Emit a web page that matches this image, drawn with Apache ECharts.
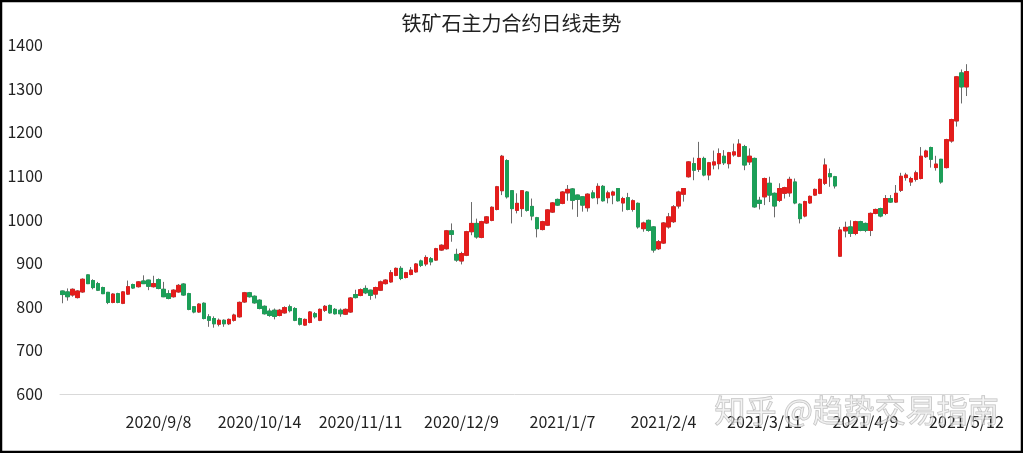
<!DOCTYPE html>
<html><head><meta charset="utf-8">
<script src="https://cdn.jsdelivr.net/npm/echarts@6/dist/echarts.min.js"></script>
<style>html,body{margin:0;padding:0;background:#fff}#c{width:1023px;height:453px}</style>
</head><body><div id="c"></div>
<script>
const titleText = '铁矿石主力合约日线走势';
const watermark = '知乎 @趋势交易指南';
const dates = [
'2020/8/12','2020/8/13','2020/8/14','2020/8/17','2020/8/18','2020/8/19','2020/8/20','2020/8/21','2020/8/24','2020/8/25','2020/8/26','2020/8/27','2020/8/28','2020/8/31',
'2020/9/1','2020/9/2','2020/9/3','2020/9/4','2020/9/7','2020/9/8','2020/9/9','2020/9/10','2020/9/11','2020/9/14','2020/9/15','2020/9/16','2020/9/17','2020/9/18','2020/9/21','2020/9/22','2020/9/23','2020/9/24','2020/9/25','2020/9/28','2020/9/29','2020/9/30',
'2020/10/9','2020/10/12','2020/10/13','2020/10/14','2020/10/15','2020/10/16','2020/10/19','2020/10/20','2020/10/21','2020/10/22','2020/10/23','2020/10/26','2020/10/27','2020/10/28','2020/10/29','2020/10/30',
'2020/11/2','2020/11/3','2020/11/4','2020/11/5','2020/11/6','2020/11/9','2020/11/10','2020/11/11','2020/11/12','2020/11/13','2020/11/16','2020/11/17','2020/11/18','2020/11/19','2020/11/20','2020/11/23','2020/11/24','2020/11/25','2020/11/26','2020/11/27','2020/11/30',
'2020/12/1','2020/12/2','2020/12/3','2020/12/4','2020/12/7','2020/12/8','2020/12/9','2020/12/10','2020/12/11','2020/12/14','2020/12/15','2020/12/16','2020/12/17','2020/12/18','2020/12/21','2020/12/22','2020/12/23','2020/12/24','2020/12/25','2020/12/28','2020/12/29','2020/12/30','2020/12/31',
'2021/1/4','2021/1/5','2021/1/6','2021/1/7','2021/1/8','2021/1/11','2021/1/12','2021/1/13','2021/1/14','2021/1/15','2021/1/18','2021/1/19','2021/1/20','2021/1/21','2021/1/22','2021/1/25','2021/1/26','2021/1/27','2021/1/28','2021/1/29',
'2021/2/1','2021/2/2','2021/2/3','2021/2/4','2021/2/5','2021/2/8','2021/2/9','2021/2/10','2021/2/18','2021/2/19','2021/2/22','2021/2/23','2021/2/24','2021/2/25','2021/2/26',
'2021/3/1','2021/3/2','2021/3/3','2021/3/4','2021/3/5','2021/3/8','2021/3/9','2021/3/10','2021/3/11','2021/3/12','2021/3/15','2021/3/16','2021/3/17','2021/3/18','2021/3/19','2021/3/22','2021/3/23','2021/3/24','2021/3/25','2021/3/26','2021/3/29','2021/3/30','2021/3/31',
'2021/4/1','2021/4/2','2021/4/6','2021/4/7','2021/4/8','2021/4/9','2021/4/12','2021/4/13','2021/4/14','2021/4/15','2021/4/16','2021/4/19','2021/4/20','2021/4/21','2021/4/22','2021/4/23','2021/4/26','2021/4/27','2021/4/28','2021/4/29','2021/4/30',
'2021/5/6','2021/5/7','2021/5/10','2021/5/11','2021/5/12'];
const openP = [836,834,827,821,834,873,860,853,844,833,810,830,808,829,851,846,859,861,846,862,840,830,823,834,852,830,800,788,808,777,773,760,769,761,769,777,811,832,824,815,801,790,792,780,786,800,796,773,758,764,784,769,792,803,794,792,783,788,828,826,842,838,829,838,853,857,872,888,867,874,880,905,898,910,907,930,933,974,920,905,918,972,991,959,992,998,1023,1066,1135,1066,1021,1025,1063,1030,1004,977,987,1017,1046,1037,1061,1070,1056,1052,1027,1061,1050,1076,1050,1056,1071,1038,1050,1023,1037,979,998,983,933,946,983,995,1031,1058,1098,1128,1115,1140,1102,1125,1128,1145,1128,1148,1145,1167,1132,1140,1044,1052,1083,1060,1044,1060,1061,1086,1035,1008,1038,1056,1060,1083,1105,1098,916,974,983,968,995,991,975,1014,1025,1014,1048,1040,1067,1096,1086,1092,1094,1144,1165,1119,1138,1119,1180,1226,1336,1304];
const closeP = [828,823,840,836,863,853,844,838,830,810,829,810,834,846,843,857,853,847,853,842,823,819,838,849,827,794,788,806,773,769,761,769,761,771,781,810,832,823,809,796,784,780,778,792,798,791,769,760,771,788,777,794,801,786,784,784,794,820,821,839,832,826,844,857,861,878,888,865,878,884,898,895,913,903,933,941,974,966,907,922,972,991,960,995,1006,1028,1075,1145,1052,1025,1037,1066,1021,1008,979,995,1022,1038,1033,1063,1069,1044,1046,1033,1058,1050,1076,1043,1061,1063,1043,1048,1023,1043,983,992,975,930,949,992,1006,1029,1063,1071,1132,1113,1140,1102,1130,1132,1151,1130,1153,1155,1173,1125,1145,1029,1037,1094,1056,1031,1071,1073,1092,1038,1002,1041,1053,1069,1092,1125,1098,1077,976,982,968,995,975,975,1014,1023,1008,1048,1040,1060,1099,1102,1094,1107,1145,1157,1138,1127,1086,1183,1229,1327,1304,1339];
const lowP = [808,814,823,819,832,852,840,836,829,806,808,808,806,827,841,844,852,838,844,840,822,817,821,832,825,792,785,786,771,754,752,755,754,758,766,775,809,821,807,794,782,777,771,778,784,787,767,757,756,762,773,767,788,784,782,777,781,786,819,824,829,816,819,836,851,855,870,861,865,872,878,891,893,895,905,928,931,949,903,897,916,964,956,957,990,996,1021,1056,1048,991,1014,1006,1018,998,959,975,985,1015,1031,1035,1043,1023,1006,1018,1018,1048,1035,1041,1037,1035,1041,1018,1021,1018,979,972,972,924,930,944,979,992,1025,1041,1096,1090,1109,1099,1090,1115,1115,1125,1117,1144,1143,1113,1125,1027,1023,1033,1040,1005,1040,1048,1052,1035,991,1005,1036,1054,1058,1079,1075,1071,914,959,960,964,973,971,962,1012,1005,1010,1038,1038,1063,1089,1077,1087,1092,1141,1119,1112,1082,1117,1176,1213,1266,1283];
const highP = [837,842,842,838,865,874,863,857,846,834,831,832,836,860,853,859,872,862,871,865,857,838,840,852,854,832,801,808,810,783,778,773,771,773,784,812,834,834,826,817,803,796,796,795,801,805,799,775,773,790,788,796,804,805,797,796,796,822,839,842,849,839,846,860,863,884,890,893,880,891,900,908,918,914,935,943,976,991,933,926,974,1040,1002,997,1008,1030,1077,1148,1138,1067,1060,1067,1065,1048,1006,997,1024,1040,1048,1065,1079,1072,1057,1053,1060,1067,1083,1079,1066,1066,1072,1052,1061,1046,1039,995,1000,985,953,994,1015,1033,1066,1071,1134,1142,1178,1144,1132,1158,1163,1159,1155,1174,1184,1171,1163,1142,1052,1096,1098,1062,1083,1075,1098,1094,1037,1043,1055,1071,1094,1140,1117,1100,983,995,998,997,997,993,1016,1025,1027,1056,1056,1079,1107,1107,1098,1112,1166,1160,1167,1146,1139,1185,1231,1329,1344,1356];
const yTicks = {min:600, max:1400, interval:100};

const UP = '#e31d1c', DOWN = '#1c9f58', WICK = '#6b6b6b';
const wickData = dates.map((d,i)=>[openP[i], closeP[i], lowP[i], highP[i]]);
const bodyData = dates.map((d,i)=>{
  const up = closeP[i] >= openP[i];
  return {value:[openP[i], closeP[i], Math.min(openP[i],closeP[i]), Math.max(openP[i],closeP[i])],
    itemStyle:{color: up?UP:DOWN, color0: up?UP:DOWN, borderColor: up?UP:DOWN, borderColor0: up?UP:DOWN}};
});
const FONT = '"Noto Sans CJK SC", "Noto Sans", sans-serif';
const chart = echarts.init(document.getElementById('c'), null, {renderer:'canvas'});
chart.setOption({
  animation:false,
  backgroundColor:'#fff',
  title:{text:titleText, left:'center', top:8, textStyle:{fontFamily:FONT, fontSize:20, fontWeight:'normal', color:'#222'}},
  grid:{left:60, right:54, top:45, bottom:59},
  xAxis:{type:'category', data:dates, boundaryGap:true,
    axisLine:{show:true, lineStyle:{color:'#d9d9d9', width:1}},
    axisTick:{show:false},
    axisLabel:{interval:(idx)=>idx%20===19, hideOverlap:false, margin:20, fontFamily:FONT, fontSize:16, color:'#222'},
    splitLine:{show:false}},
  yAxis:{type:'value', min:yTicks.min, max:yTicks.max, interval:yTicks.interval, scale:false,
    axisLine:{show:false}, axisTick:{show:false}, splitLine:{show:false},
    axisLabel:{margin:17, fontFamily:FONT, fontSize:16, color:'#222', formatter:(v)=>String(v)}},
  series:[
    {type:'candlestick', name:'wick', data:wickData, barWidth:4,
      itemStyle:{color:WICK, color0:WICK, borderColor:WICK, borderColor0:WICK, borderWidth:1}},
    {type:'candlestick', name:'body', data:bodyData, barWidth:4, z:3,
      itemStyle:{color:UP, color0:DOWN, borderColor:UP, borderColor0:DOWN, borderWidth:1}}
  ],
  graphic:[
    {type:'text', left:714, top:394, z:100, style:{text:watermark, font:'31px '+FONT, fill:'rgba(235,235,235,0.55)', stroke:'rgba(110,110,110,0.45)', lineWidth:1}},
    {type:'rect', z:100, shape:{x:1, y:1, width:1021, height:451}, style:{fill:'none', stroke:'#000', lineWidth:2.5}}
  ]
});
</script></body></html>
